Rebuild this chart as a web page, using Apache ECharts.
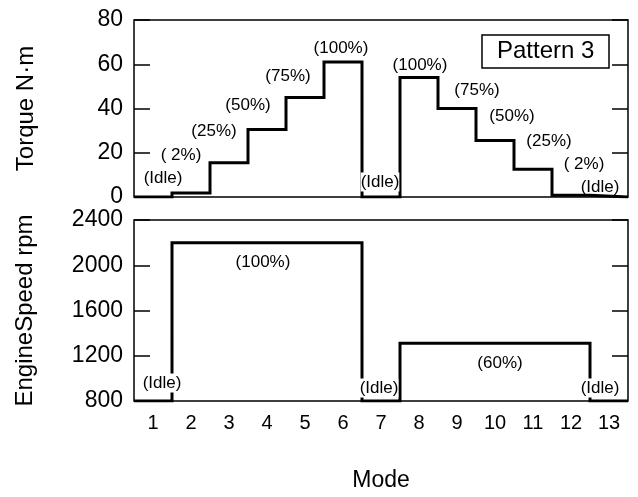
<!DOCTYPE html>
<html>
<head>
<meta charset="utf-8">
<script src="https://cdn.jsdelivr.net/npm/echarts@6/dist/echarts.min.js"></script>
<style>
  html, body { margin: 0; padding: 0; background: #fff; }
  #chart { width: 638px; height: 497px; }
</style>
</head>
<body>
<div id="chart"></div>
<script>
// ---- data ----
const modes = ['1','2','3','4','5','6','7','8','9','10','11','12','13'];
const torque = [0, 1.8, 15.5, 30.5, 45, 61, 0, 54, 40, 25.5, 12.5, 0.8, 0];
const speed = [800, 2200, 2200, 2200, 2200, 2200, 800, 1310, 1310, 1310, 1310, 1310, 800];
const torqueLabels = ['(Idle)', '( 2%)', '(25%)', '(50%)', '(75%)', '(100%)', '(Idle)',
                      '(100%)', '(75%)', '(50%)', '(25%)', '( 2%)', '(Idle)'];
const speedLabelModes = [1, 4, 7, 10, 13];
const speedLabels = ['(Idle)', '(100%)', '(Idle)', '(60%)', '(Idle)'];
const torqueTicks = [0, 20, 40, 60, 80];
const speedTicks = [800, 1200, 1600, 2000, 2400];
const patternName = 'Pattern 3';

// ---- layout / style (not data) ----
const FONT = 'Liberation Sans, Arial, Helvetica, sans-serif';
const torqueLabelOffsets = [[10,-19],[-10,-38],[-15,-31],[-19,-24],[-17,-21],[-2,-14],[-1,-15],
                            [1,-12],[20,-18],[17,-24],[16,-28],[13,-31],[-9,-10]];
const torqueLabelMask = [false,false,false,false,false,false,true,false,false,false,false,false,false];
const speedLabelOffsets = [[9,-18],[-4,20],[-2,-13],[5,20],[-9,-13]];
const speedLabelMask = [true,false,true,false,true];

function stepPoints(vals) {
  const pts = [];
  vals.forEach((v, i) => { pts.push([i + 0.5, v]); pts.push([i + 1.5, v]); });
  return pts;
}
function labelItems(modeIdx, vals, texts, offsets, mask) {
  return modeIdx.map((m, k) => ({
    value: [m, vals[m - 1]],
    label: {
      formatter: texts[k],
      offset: offsets[k],
      backgroundColor: mask[k] ? '#fff' : 'transparent',
      padding: mask[k] ? [1, 0] : 0
    }
  }));
}

const chart = echarts.init(document.getElementById('chart'), null, { renderer: 'canvas' });
const xBase = {
  type: 'value', min: 0.5, max: 13.5, interval: 0.5,
  axisLine: { show: false }, axisTick: { show: false }, splitLine: { show: false }
};
const yTickStyle = { show: true, inside: true, length: 16, lineStyle: { color: '#000', width: 1.5 } };
const labelCommon = {
  show: true, position: 'inside', color: '#000', fontFamily: FONT, fontSize: 17,
  align: 'center', verticalAlign: 'middle', textBorderWidth: 0, textBorderColor: 'transparent', opacity: 1
};
const plainNum = v => String(v);

const option = {
  backgroundColor: '#fff',
  animation: false,
  textStyle: { fontFamily: FONT, color: '#000' },
  title: {
    text: patternName, left: 482, top: 35,
    borderColor: '#000', borderWidth: 1.5, padding: [4, 15, 4, 15],
    textStyle: { fontFamily: FONT, fontSize: 24, fontWeight: 'normal', color: '#000', lineHeight: 25 }
  },
  grid: [
    { left: 134, top: 20, width: 494, height: 177, show: true, borderColor: '#000', borderWidth: 1.5, backgroundColor: 'transparent' },
    { left: 134, top: 220, width: 494, height: 181, show: true, borderColor: '#000', borderWidth: 1.5, backgroundColor: 'transparent' }
  ],
  xAxis: [
    Object.assign({}, xBase, { gridIndex: 0, axisLabel: { show: false } }),
    Object.assign({}, xBase, {
      gridIndex: 1,
      name: 'Mode', nameLocation: 'middle', nameGap: 68,
      nameTextStyle: { fontFamily: FONT, fontSize: 23, color: '#000' },
      axisLabel: {
        show: true, color: '#000', fontFamily: FONT, fontSize: 20, margin: 12,
        showMinLabel: true, showMaxLabel: true,
        formatter: v => (Math.abs(v - Math.round(v)) < 1e-6 && v >= 1 && v <= modes.length) ? modes[Math.round(v) - 1] : ''
      }
    })
  ],
  yAxis: [
    {
      type: 'value', gridIndex: 0, position: 'left',
      min: torqueTicks[0], max: torqueTicks[torqueTicks.length - 1], interval: torqueTicks[1] - torqueTicks[0],
      name: 'Torque N·m', nameLocation: 'middle', nameRotate: 90, nameGap: 96,
      nameTextStyle: { fontFamily: FONT, fontSize: 24, color: '#000' },
      axisLine: { show: false }, axisTick: yTickStyle, splitLine: { show: false },
      axisLabel: { color: '#000', fontFamily: FONT, fontSize: 23, margin: 11, formatter: plainNum }
    },
    {
      type: 'value', gridIndex: 0, position: 'right',
      min: torqueTicks[0], max: torqueTicks[torqueTicks.length - 1], interval: torqueTicks[1] - torqueTicks[0],
      axisLine: { show: false }, axisTick: yTickStyle, splitLine: { show: false }, axisLabel: { show: false }
    },
    {
      type: 'value', gridIndex: 1, position: 'left',
      min: speedTicks[0], max: speedTicks[speedTicks.length - 1], interval: speedTicks[1] - speedTicks[0],
      name: 'EngineSpeed rpm', nameLocation: 'middle', nameRotate: 90, nameGap: 97,
      nameTextStyle: { fontFamily: FONT, fontSize: 24, color: '#000' },
      axisLine: { show: false }, axisTick: yTickStyle, splitLine: { show: false },
      axisLabel: { color: '#000', fontFamily: FONT, fontSize: 23, margin: 11, formatter: plainNum }
    },
    {
      type: 'value', gridIndex: 1, position: 'right',
      min: speedTicks[0], max: speedTicks[speedTicks.length - 1], interval: speedTicks[1] - speedTicks[0],
      axisLine: { show: false }, axisTick: yTickStyle, splitLine: { show: false }, axisLabel: { show: false }
    }
  ],
  series: [
    {
      type: 'line', xAxisIndex: 0, yAxisIndex: 0, z: 2,
      data: stepPoints(torque), symbol: 'none',
      lineStyle: { color: '#000', width: 3, join: 'miter', cap: 'butt' }
    },
    {
      type: 'line', xAxisIndex: 1, yAxisIndex: 2, z: 2,
      data: stepPoints(speed), symbol: 'none',
      lineStyle: { color: '#000', width: 3, join: 'miter', cap: 'butt' }
    },
    {
      type: 'scatter', xAxisIndex: 0, yAxisIndex: 0, z: 5, symbolSize: 0,
      itemStyle: { color: '#000', opacity: 1 },
      label: labelCommon,
      data: labelItems(modes.map((_, i) => i + 1), torque, torqueLabels, torqueLabelOffsets, torqueLabelMask)
    },
    {
      type: 'scatter', xAxisIndex: 1, yAxisIndex: 2, z: 5, symbolSize: 0,
      itemStyle: { color: '#000', opacity: 1 },
      label: labelCommon,
      data: labelItems(speedLabelModes, speed, speedLabels, speedLabelOffsets, speedLabelMask)
    }
  ]
};
chart.setOption(option);
</script>
</body>
</html>
